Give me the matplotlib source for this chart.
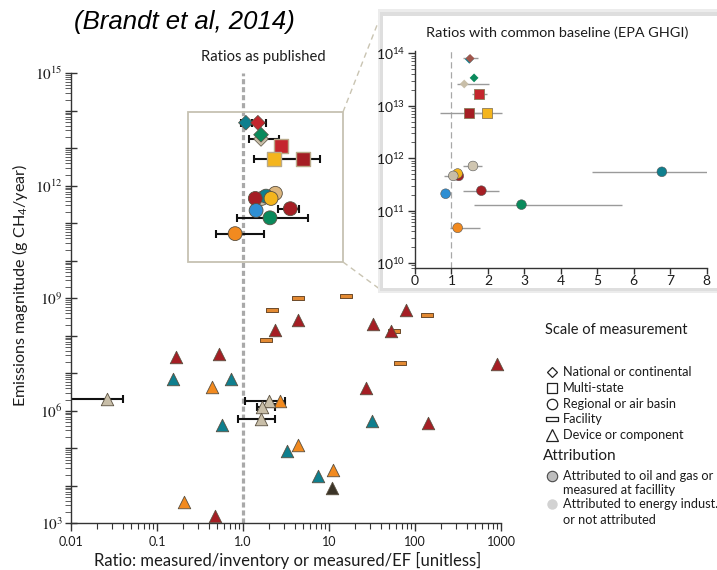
import numpy as np
import matplotlib
matplotlib.use('Agg')
import matplotlib.pyplot as plt
from matplotlib import font_manager
from matplotlib.lines import Line2D
from matplotlib.patches import Rectangle
from matplotlib.ticker import LogLocator, FuncFormatter, NullFormatter, FixedLocator

names = {f.name for f in font_manager.fontManager.ttflist}
NARROW = 'Liberation Sans Narrow' if 'Liberation Sans Narrow' in names else 'Lato'
plt.rcParams['font.family'] = [NARROW, 'DejaVu Sans']
plt.rcParams['mathtext.fontset'] = 'custom'
plt.rcParams['mathtext.rm'] = NARROW
plt.rcParams['mathtext.it'] = NARROW + ':italic'
plt.rcParams['mathtext.bf'] = NARROW + ':bold'

nan = np.nan
# ---------------- colours ----------------
DKRED = '#a51e24'
RED = '#c4262d'
TEAL = '#0f7f8e'
GREEN = '#0a8a5c'
ORANGE = '#f28a1f'
YELLOW = '#f4b51d'
BLUE = '#2f8fd3'
BEIGE = '#c8bea8'
TAN = '#dcb67e'
DARK = '#3b3427'
BROWN = '#a0564c'

# ---------------- main panel data (ratios as published) ----------------
nat_x = [1.08, 1.49, 1.62, 1.62]
nat_y = [4.8e13, 4.8e13, 1.78e13, 2.3e13]
nat_lo = [0.95, 1.27, 1.17, nan]
nat_hi = [1.27, 1.85, 2.62, nan]
nat_c = [TEAL, RED, BEIGE, GREEN]

ms_x = [2.74, 2.31, 5.03]
ms_y = [1.17e13, 5.3e12, 5.3e12]
ms_lo = [nan, 1.34, 2.5]
ms_hi = [nan, 4.4, 7.85]
ms_c = [RED, YELLOW, DKRED]

reg_x = [2.38, 1.65, 1.85, 2.12, 1.39, 1.42, 3.55, 2.06, 0.81]
reg_y = [6.3e11, 4.6e11, 5.3e11, 4.6e11, 4.6e11, 2.2e11, 2.45e11, 1.4e11, 5.3e10]
reg_lo = [nan, nan, nan, nan, nan, nan, 2.55, 0.845, 0.485]
reg_hi = [nan, nan, nan, nan, nan, nan, 4.48, 5.74, 1.74]
reg_c = [TAN, BEIGE, TEAL, YELLOW, DKRED, BLUE, DKRED, GREEN, ORANGE]

fac_x = [4.33, 15.6, 2.16, 138, 57.4, 1.84, 67.5]
fac_y = [1.0e9, 1.16e9, 4.9e8, 3.69e8, 1.36e8, 7.7e7, 1.88e7]

dev_red_x = [78.6, 4.40, 32.5, 2.36, 52.2, 0.166, 0.526, 898, 26.7, 140.6, 0.472]
dev_red_y = [4.9e8, 2.62e8, 2.05e8, 1.42e8, 1.36e8, 2.65e7, 3.26e7, 1.77e7, 3.96e6, 4.65e5, 1.53e3]
dev_teal_x = [0.152, 0.731, 0.574, 31.9, 3.27, 7.51]
dev_teal_y = [7.05e6, 6.9e6, 4.2e5, 5.26e5, 8.7e4, 1.78e4]
dev_orange_x = [0.44, 2.69, 4.40, 11.2, 0.206]
dev_orange_y = [4.2e6, 1.87e6, 1.19e5, 2.68e4, 3.7e3]
dev_beige_x = [0.0264, 2.02, 1.65, 1.63]
dev_beige_y = [2.07e6, 1.79e6, 1.24e6, 6.1e5]
dev_beige_lo = [0.005, 1.05, 1.44, 0.88]
dev_beige_hi = [0.0406, 3.08, 2.38, 2.36]
dev_dark_x = [10.9]
dev_dark_y = [8.9e3]

x_ticks = [0.01, 0.1, 1, 10, 100, 1000]
x_ticklabels = ['0.01', '0.1', '1.0', '10', '100', '1000']

# ---------------- inset data (common baseline, EPA GHGI) ----------------
in_nat_x = [1.49, 1.51, 1.62, 1.35]
in_nat_y = [7.7e13, 8.0e13, 3.4e13, 2.6e13]
in_nat_lo = [nan, 1.31, nan, 1.14]
in_nat_hi = [nan, 1.72, nan, 2.02]
in_nat_c = [TEAL, BROWN, GREEN, BEIGE]

in_ms_x = [1.76, 1.48, 1.98]
in_ms_y = [1.7e13, 7.2e12, 7.2e12]
in_ms_lo = [1.56, 0.69, 1.6]
in_ms_hi = [1.98, 2.1, 2.39]
in_ms_c = [RED, DKRED, YELLOW]

in_reg_x = [1.59, 6.77, 1.20, 1.17, 1.05, 0.84, 1.82, 2.92, 1.17]
in_reg_y = [7.1e11, 5.5e11, 4.6e11, 5.1e11, 4.6e11, 2.1e11, 2.4e11, 1.3e11, 4.7e10]
in_reg_lo = [1.33, 4.85, nan, nan, 0.80, nan, 1.33, 1.63, 0.97]
in_reg_hi = [1.84, 8.0, nan, nan, 1.30, nan, 2.30, 5.68, 1.77]
in_reg_c = ['#cfc5b0', TEAL, DKRED, YELLOW, BEIGE, BLUE, DKRED, GREEN, ORANGE]

in_x_ticks = [0, 1, 2, 3, 4, 5, 6, 7, 8]

# ---------------- figure ----------------
W, H = 717, 570
fig = plt.figure(figsize=(W / 100, H / 100), dpi=100)
fig.patch.set_facecolor('white')


def fx(px):
    return px / W


def fy(py):
    return 1 - py / H


TXT = '#1c1c1c'
EDGE = '#5a5040'
FAC_MARK = [(-1, -0.28), (1, -0.28), (1, 0.28), (-1, 0.28), (-1, -0.28)]

ax = fig.add_axes([fx(71), fy(523.3), 430 / W, 450 / H])
ax.set_xscale('log')
ax.set_yscale('log')
ax.set_xlim(0.01, 1000)
ax.set_ylim(1e3, 1e15)
ax.patch.set_alpha(0)
for s in ['top', 'right']:
    ax.spines[s].set_visible(False)
for s in ['left', 'bottom']:
    ax.spines[s].set_color('#333333')
    ax.spines[s].set_linewidth(1.0)

ax.xaxis.set_major_locator(FixedLocator(x_ticks))
ax.set_xticklabels(x_ticklabels)
ax.xaxis.set_minor_locator(LogLocator(base=10, subs=np.arange(2, 10), numticks=30))
ax.xaxis.set_minor_formatter(NullFormatter())
ax.tick_params(axis='x', which='major', direction='out', length=6, width=1, labelsize=9,
               colors='#333333', labelcolor=TXT, pad=3)
ax.tick_params(axis='x', which='minor', direction='out', length=4, width=0.8, colors='#333333')

ax.yaxis.set_major_locator(LogLocator(base=10, numticks=30))
ax.yaxis.set_minor_locator(LogLocator(base=10, subs=np.arange(2, 10), numticks=30))
ax.yaxis.set_minor_formatter(NullFormatter())


def main_y_fmt(v, pos):
    e = int(round(np.log10(v)))
    return r'$10^{%d}$' % e if e % 3 == 0 else ''


ax.yaxis.set_major_formatter(FuncFormatter(main_y_fmt))
ax.tick_params(axis='y', which='major', direction='inout', length=8, width=1, labelsize=11,
               colors='#333333', labelcolor=TXT, pad=2)
ax.tick_params(axis='y', which='minor', direction='out', length=4, width=0.6, colors='#444444')

# reference line at ratio 1
ax.axvline(1, color='#a9a9a9', lw=2.3, ls=(0, (1.6, 0.9)), zorder=1)


def errbars(a, x, y, lo, hi, **kw):
    x = np.asarray(x, float)
    y = np.asarray(y, float)
    lo = np.asarray(lo, float)
    hi = np.asarray(hi, float)
    m = ~np.isnan(lo)
    if m.any():
        a.errorbar(x[m], y[m], xerr=[x[m] - lo[m], hi[m] - x[m]], fmt='none', **kw)


EB = dict(ecolor='#111111', elinewidth=1.5, capsize=3, capthick=1.5, zorder=2)
errbars(ax, nat_x, nat_y, nat_lo, nat_hi, **EB)
errbars(ax, ms_x, ms_y, ms_lo, ms_hi, **EB)
errbars(ax, reg_x, reg_y, reg_lo, reg_hi, **EB)
errbars(ax, dev_beige_x, dev_beige_y, dev_beige_lo, dev_beige_hi, **EB)

ax.scatter(nat_x, nat_y, s=7.5 ** 2, marker='D', c=nat_c, edgecolors=EDGE, linewidths=0.5, zorder=3)
ax.scatter(ms_x, ms_y, s=10 ** 2, marker='s', c=ms_c, edgecolors='#b9a989', linewidths=1.0, zorder=3)
ax.scatter(reg_x, reg_y, s=10 ** 2, marker='o', c=reg_c, edgecolors=EDGE, linewidths=0.6, zorder=3)
ax.scatter(fac_x, fac_y, s=9 ** 2, marker=FAC_MARK, c='#e38a33', edgecolors='#6b4a2a',
           linewidths=0.7, zorder=3)
TRI = dict(s=9 ** 2, marker='^', edgecolors=EDGE, linewidths=0.6, zorder=3, clip_on=False)
ax.scatter(dev_red_x, dev_red_y, c=DKRED, **TRI)
ax.scatter(dev_teal_x, dev_teal_y, c=TEAL, **TRI)
ax.scatter(dev_orange_x, dev_orange_y, c=ORANGE, **TRI)
ax.scatter(dev_beige_x, dev_beige_y, c=BEIGE, **TRI)
ax.scatter(dev_dark_x, dev_dark_y, c=DARK, **TRI)

# zoom box
ax.add_patch(Rectangle((0.272, 0.581), 0.361, 0.333, transform=ax.transAxes,
                       fill=False, edgecolor='#c6c2b2', lw=1.3, zorder=1.5))

# connector lines to inset
for (x0, y0, x1, y1) in [(343, 112, 381, 15), (343, 262, 381, 290)]:
    fig.add_artist(Line2D([fx(x0), fx(x1)], [fy(y0), fy(y1)], transform=fig.transFigure,
                          color='#c9c4b2', lw=1.0, ls=(0, (4, 3)), zorder=1.5))

# inset frame (soft shadow border)
fig.add_artist(Rectangle((fx(378), fy(293)), (W - 378) / W, (293 - 9) / H,
                         transform=fig.transFigure, facecolor='#ececec', edgecolor='none', zorder=1.7))
fig.add_artist(Rectangle((fx(380), fy(291)), (W - 380) / W, (291 - 12) / H,
                         transform=fig.transFigure, facecolor='#dedede', edgecolor='none', zorder=1.8))
fig.add_artist(Rectangle((fx(383), fy(288)), (W - 383) / W, (288 - 16) / H,
                         transform=fig.transFigure, facecolor='white', edgecolor='none', zorder=1.9))

ins = fig.add_axes([fx(415), fy(268.3), 291.7 / W, 217.6 / H])
ins.set_zorder(3)
ins.patch.set_alpha(0)
ins.set_yscale('log')
ins.set_xlim(0, 8)
ins.set_ylim(10 ** 9.9, 10 ** 14.05)
for s in ['top', 'right']:
    ins.spines[s].set_visible(False)
for s in ['left', 'bottom']:
    ins.spines[s].set_color('#333333')
    ins.spines[s].set_linewidth(1.0)
ins.set_xticks(in_x_ticks)
ins.tick_params(axis='x', which='major', direction='out', length=4, width=1, labelsize=10,
                colors='#333333', labelcolor=TXT, pad=1)
ins.yaxis.set_major_locator(LogLocator(base=10, numticks=30))
ins.yaxis.set_minor_locator(LogLocator(base=10, subs=np.arange(2, 10), numticks=30))
ins.yaxis.set_minor_formatter(NullFormatter())
ins.yaxis.set_major_formatter(FuncFormatter(lambda v, p: r'$10^{%d}$' % int(round(np.log10(v)))))
ins.tick_params(axis='y', which='major', direction='out', length=5, width=1, labelsize=10,
                colors='#333333', labelcolor=TXT, pad=2)
ins.tick_params(axis='y', which='minor', direction='out', length=3, width=0.6, colors='#444444')
ins.axvline(1, color='#a8a8a8', lw=0.9, ls=(0, (5, 3)), zorder=1)

IEB = dict(ecolor='#9a9a9a', elinewidth=1.0, capsize=0, zorder=2)
errbars(ins, in_nat_x, in_nat_y, in_nat_lo, in_nat_hi, **IEB)
errbars(ins, in_ms_x, in_ms_y, in_ms_lo, in_ms_hi, **IEB)
errbars(ins, in_reg_x, in_reg_y, in_reg_lo, in_reg_hi, **IEB)
ins.scatter(in_nat_x, in_nat_y, s=4.5 ** 2, marker='D', c=in_nat_c, edgecolors='none', zorder=3)
ins.scatter(in_ms_x, in_ms_y, s=7 ** 2, marker='s', c=in_ms_c, edgecolors='#8a7a5a', linewidths=0.6, zorder=3)
ins.scatter(in_reg_x, in_reg_y, s=7 ** 2, marker='o', c=in_reg_c, edgecolors='#555555', linewidths=0.4,
            zorder=3, clip_on=False)

fig.text(fx(557), fy(33), 'Ratios with common baseline (EPA GHGI)', ha='center', va='center',
         fontsize=10.4, color=TXT, zorder=4)

# titles and labels
fig.text(fx(184), fy(22), '(Brandt et al, 2014)', ha='center', va='center', fontsize=18.5,
         style='italic', family=['Liberation Sans', 'DejaVu Sans'], color='black')
fig.text(fx(263), fy(57), 'Ratios as published', ha='center', va='center', fontsize=10.6, color=TXT)
fig.text(fx(20), fy(285), 'Emissions magnitude (g CH$_4$/year)', ha='center', va='center',
         rotation=90, fontsize=11.6, color=TXT)
fig.text(fx(288), fy(560), 'Ratio: measured/inventory or measured/EF [unitless]', ha='center',
         va='center', fontsize=12, color=TXT)

# legend
LX_M, LX_T = 552, 563
fig.text(fx(545), fy(330), 'Scale of measurement', ha='left', va='center', fontsize=10.5, color=TXT)
leg_items = [
    ('D', 5.5, 372, 'National or continental'),
    ('s', 6.5, 388, 'Multi-state'),
    ('o', 7.5, 404, 'Regional or air basin'),
    (FAC_MARK, 9, 419, 'Facility'),
    ('^', 8.5, 435, 'Device or component'),
]
for mk, sz, py, label in leg_items:
    fig.add_artist(Line2D([fx(LX_M)], [fy(py)], transform=fig.transFigure, marker=mk, ms=sz,
                          mfc='white', mec='#222222', mew=0.9, ls='none'))
    fig.text(fx(LX_T), fy(py), label, ha='left', va='center', fontsize=9.2, color=TXT)

fig.text(fx(543), fy(456), 'Attribution', ha='left', va='center', fontsize=11, color=TXT)
fig.add_artist(Line2D([fx(LX_M)], [fy(476)], transform=fig.transFigure, marker='o', ms=7.5,
                      mfc='#bdbdbd', mec='#4a4a4a', mew=0.8, ls='none'))
fig.text(fx(LX_T), fy(476), 'Attributed to oil and gas or', ha='left', va='center', fontsize=9.2, color=TXT)
fig.text(fx(LX_T), fy(490), 'measured at facillity', ha='left', va='center', fontsize=9.2, color=TXT)
fig.add_artist(Line2D([fx(LX_M)], [fy(504)], transform=fig.transFigure, marker='o', ms=7.5,
                      mfc='#d2d2d2', mec='none', ls='none'))
fig.text(fx(LX_T), fy(504), 'Attributed to energy indust.', ha='left', va='center', fontsize=9.2, color=TXT)
fig.text(fx(LX_T), fy(520), 'or not attributed', ha='left', va='center', fontsize=9.2, color=TXT)

fig.canvas.draw()
for lbl in ax.get_yticklabels():
    lbl.set_math_fontfamily('stix')

fig.savefig('out.png', dpi=100, facecolor='white')
